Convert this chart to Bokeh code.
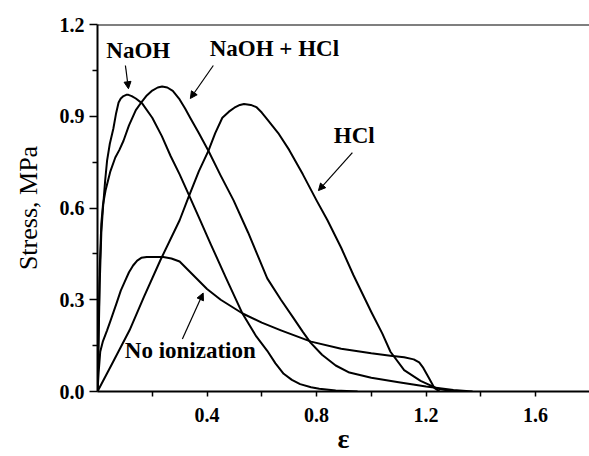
from bokeh.plotting import figure
from bokeh.models import (Range1d, FixedTicker, PrintfTickFormatter, Span, Arrow,
                          NormalHead)
from bokeh.core.properties import value
from bokeh.embed import file_html
from bokeh.resources import INLINE

# ---- data ----
naoh_x = [0, 0.003, 0.008, 0.014, 0.02, 0.028, 0.035, 0.045, 0.058, 0.068, 0.077, 0.085,
          0.095, 0.105, 0.113, 0.125, 0.14, 0.163, 0.2, 0.235, 0.267, 0.30, 0.33, 0.376,
          0.413, 0.47, 0.53, 0.58, 0.62, 0.65, 0.68, 0.71, 0.74, 0.78, 0.81, 0.87, 0.95]
naoh_y = [0, 0.12, 0.35, 0.52, 0.6, 0.69, 0.755, 0.81, 0.86, 0.91, 0.945, 0.958,
          0.966, 0.97, 0.97, 0.966, 0.958, 0.942, 0.895, 0.835, 0.77, 0.71, 0.65, 0.558,
          0.483, 0.37, 0.254, 0.18, 0.133, 0.092, 0.058, 0.038, 0.024, 0.014, 0.009, 0.003, 0.0]

mix_x = [0, 0.003, 0.008, 0.014, 0.02, 0.03, 0.047, 0.065, 0.08, 0.095, 0.115, 0.14,
         0.163, 0.18, 0.20, 0.22, 0.236, 0.255, 0.275, 0.30, 0.32, 0.34, 0.37, 0.405,
         0.45, 0.497, 0.55, 0.62, 0.67, 0.716, 0.75, 0.778, 0.82, 0.87, 0.92, 1.0, 1.1,
         1.2, 1.3, 1.37]
mix_y = [0, 0.15, 0.4, 0.55, 0.61, 0.66, 0.72, 0.765, 0.79, 0.82, 0.87, 0.92,
         0.949, 0.968, 0.984, 0.994, 0.997, 0.994, 0.983, 0.955, 0.925, 0.893, 0.845, 0.787,
         0.706, 0.625, 0.52, 0.37, 0.30, 0.24, 0.195, 0.16, 0.12, 0.085, 0.062, 0.045, 0.03,
         0.016, 0.005, 0.0]

hcl_x = [0, 0.05, 0.117, 0.17, 0.23, 0.30, 0.33, 0.37, 0.405, 0.43, 0.456, 0.48, 0.50,
         0.52, 0.535, 0.56, 0.58, 0.60, 0.62, 0.66, 0.70, 0.75, 0.80, 0.84, 0.89, 0.935,
         1.0, 1.04, 1.07, 1.12, 1.18, 1.24, 1.3]
hcl_y = [0, 0.085, 0.2, 0.31, 0.43, 0.56, 0.63, 0.72, 0.787, 0.845, 0.895, 0.915, 0.928,
         0.937, 0.94, 0.937, 0.93, 0.912, 0.89, 0.845, 0.79, 0.71, 0.625, 0.56, 0.47, 0.38,
         0.26, 0.19, 0.13, 0.07, 0.035, 0.01, 0.0]

noion_x = [0, 0.004, 0.01, 0.02, 0.035, 0.047, 0.07, 0.085, 0.10, 0.115, 0.13, 0.145,
           0.16, 0.18, 0.2, 0.24, 0.27, 0.30, 0.35, 0.40, 0.45, 0.53, 0.6, 0.67, 0.78,
           0.89, 1.0, 1.07, 1.12, 1.155, 1.175, 1.19, 1.21, 1.23, 1.25]
noion_y = [0, 0.06, 0.13, 0.165, 0.2, 0.23, 0.29, 0.33, 0.36, 0.39, 0.412, 0.428,
           0.437, 0.44, 0.44, 0.44, 0.435, 0.425, 0.38, 0.335, 0.30, 0.255, 0.225, 0.2,
           0.163, 0.14, 0.125, 0.117, 0.112, 0.105, 0.095, 0.077, 0.045, 0.012, 0.0]

x_major = [0.4, 0.8, 1.2, 1.6]
x_minor = [0.2, 0.6, 1.0, 1.4]
y_major = [0.0, 0.3, 0.6, 0.9, 1.2]
y_minor = [0.15, 0.45, 0.75, 1.05]

labels = ["NaOH", "NaOH + HCl", "HCl", "No ionization"]
label_x = [0.149, 0.646, 0.938, 0.339]
label_y = [1.115, 1.121, 0.837, 0.133]

# arrows: start -> end (data coords)
arrows = [((0.102, 1.066), (0.113, 0.990)),
          ((0.423, 1.066), (0.339, 0.958)),
          ((0.931, 0.781), (0.807, 0.657)),
          ((0.310, 0.172), (0.386, 0.322))]

SERIF = "Liberation Serif"

p = figure(width=589, height=456, output_backend="svg", toolbar_location=None,
           x_range=Range1d(0, 1.797), y_range=Range1d(0, 1.2),
           min_border_left=97, min_border_right=0, min_border_top=24,
           min_border_bottom=65)
p.outline_line_color = None
p.grid.grid_line_color = None

for xs, ys in [(naoh_x, naoh_y), (mix_x, mix_y), (hcl_x, hcl_y), (noion_x, noion_y)]:
    p.line(xs, ys, line_color="black", line_width=2, line_join="round")

# top frame line
p.add_layout(Span(location=1.2, dimension="width", line_color="black", line_width=2))

p.xaxis.ticker = FixedTicker(ticks=x_major, minor_ticks=x_minor)
p.yaxis.ticker = FixedTicker(ticks=y_major, minor_ticks=y_minor)
p.yaxis.formatter = PrintfTickFormatter(format="%.1f")
for ax in (p.xaxis, p.yaxis):
    ax.axis_line_color = "black"
    ax.axis_line_width = 2
    ax.major_tick_line_color = "black"
    ax.major_tick_line_width = 1.5
    ax.minor_tick_line_color = "black"
    ax.minor_tick_line_width = 1.5
    ax.major_tick_in = 0
    ax.minor_tick_in = 0
    ax.major_label_text_font_size = "20px"
    ax.major_label_text_color = "black"
    ax.axis_label_text_color = "black"

p.xaxis.major_label_text_font = "Liberation Serif"
p.xaxis.major_label_text_font_style = "bold"
p.yaxis.major_label_text_font = "Liberation Serif"
p.yaxis.major_label_text_font_style = "bold"

p.xaxis.major_tick_out = 5
p.xaxis.minor_tick_out = 5
p.xaxis.major_label_standoff = 11
p.xaxis.axis_label = "ε"
p.xaxis.axis_label_text_font = "Liberation Serif"
p.xaxis.axis_label_text_font_size = "28px"
p.xaxis.axis_label_text_font_style = "bold"
p.xaxis.axis_label_standoff = -2

p.yaxis.major_tick_out = 8
p.yaxis.minor_tick_out = 5
p.yaxis.major_label_standoff = 5
p.yaxis.axis_label = "Stress, MPa"
p.yaxis.axis_label_text_font = "Liberation Serif"
p.yaxis.axis_label_text_font_size = "26px"
p.yaxis.axis_label_text_font_style = "normal"
p.yaxis.axis_label_standoff = 14

for t, lx, ly in zip(labels, label_x, label_y):
    p.text(x=[lx], y=[ly], text=[t], text_font=value(SERIF),
           text_font_style="bold", text_font_size="23px", text_color="black",
           text_align="center", text_baseline="middle")

for (x0, y0), (x1, y1) in arrows:
    p.add_layout(Arrow(x_start=x0, y_start=y0, x_end=x1, y_end=y1,
                       line_color="black", line_width=1.2,
                       end=NormalHead(size=7, fill_color="black", line_color="black")))

open("out.html", "w").write(file_html(p, INLINE))
